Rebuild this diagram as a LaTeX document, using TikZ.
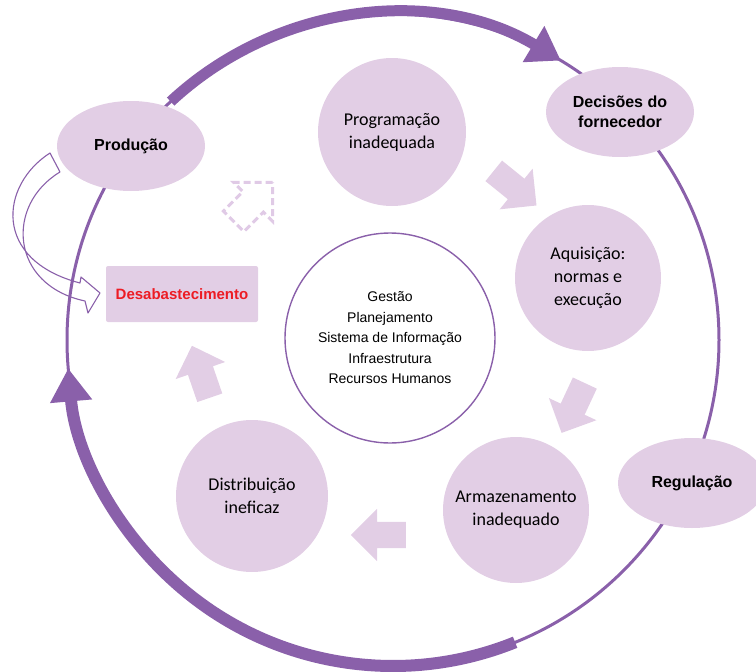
\documentclass[tikz,border=0pt]{standalone}
\usepackage{fontspec}
\setmainfont{Liberation Sans}
\newfontfamily\bubblefont{Carlito}
\usetikzlibrary{arrows.meta,shapes.arrows,shapes.geometric}

\definecolor{ringpurple}{RGB}{138,96,170}
\definecolor{lilac}{RGB}{226,206,229}
\definecolor{lilacdash}{RGB}{224,202,230}
\definecolor{alertred}{RGB}{237,28,36}

\tikzset{
    bubble/.style={circle, fill=lilac, minimum size=#1, inner sep=0pt, align=center,
        font=\bubblefont\fontsize{18}{23}\selectfont},
    oval/.style={ellipse, fill=lilac, minimum width=148pt, minimum height=90pt, inner sep=0pt,
        align=center, font=\bfseries\fontsize{16}{19.5}\selectfont},
    blockarrow/.style={single arrow, fill=lilac, minimum height=55pt, inner xsep=0pt,
        inner ysep=13pt, single arrow head extend=13pt},
}

\begin{document}
\begin{tikzpicture}[x=1pt,y=-1pt]

                \useasboundingbox (0,0) rectangle (756,672);

                \def \ringr {326}
                \coordinate (C) at (393,340);

                % the cycle: thin ring, two thick arcs with heads
                \draw[ringpurple, line width=3pt] (C) circle[radius=\ringr];
                \draw[ringpurple, line width=11pt, -{Triangle[length=32pt,width=40pt]}]
                    ([shift={(227:\ringr)}]C) arc[start angle=227, end angle=301, radius=\ringr];
                \draw[ringpurple, line width=12pt, -{Triangle[length=33pt,width=40pt]}]
                    ([shift={(68:\ringr)}]C) arc[start angle=68, end angle=175, radius=\ringr];

                % hollow curved arrow
                \draw[ringpurple, line width=1.1pt, line join=round]
                    (50,153) .. controls (0,185) and (-8,260) .. (80,283)
                    -- (81,277) -- (100,293) -- (88,313) -- (85,301)
                    .. controls (10,285) and (5,205) .. (60,172) -- cycle;

                \node[oval] (producao) at (131,146) {Produção};
                \node[oval] (decisoes) at (620,112) {Decisões do\\fornecedor};
                \node[oval] (regulacao) at (692,483) {Regulação};

                \node[bubble=148pt] (programacao) at (392,132) {Programação\\inadequada};
                \node[bubble=146pt] (aquisicao) at (588,278) {Aquisição:\\normas e\\execução};
                \node[bubble=146pt] (armazenamento) at (516,510) {Armazenamento\\inadequado};
                \node[bubble=152pt] (distribuicao) at (252,496) {Distribuição\\ineficaz};

                \node[circle, draw=ringpurple, line width=1.4pt, fill=white, minimum size=210pt,
                    align=center, font=\fontsize{14}{20.5}\selectfont] (eixos) at (390,338)
                    {Gestão\\Planejamento\\Sistema de Informação\\Infraestrutura\\Recursos Humanos};

                \node[fill=lilac, rounded corners=2pt, minimum width=152pt, minimum height=56pt,
                    text=alertred, font=\bfseries\fontsize{15}{18}\selectfont] (desab) at (182,294)
                    {Desabastecimento};

                % block arrows between the bubbles
                \foreach \x/\y/\a in {510/184/-39, 576/402/-115, 385/535/180, 203/378/109}
                {
                    \node[blockarrow, rotate=\a] (seta\a) at (\x,\y) {};
                }
                \node[blockarrow, fill=white, draw=lilacdash, line width=3pt,
                    dash pattern=on 7pt off 4pt, rotate=45] (setaTracejada) at (248,207) {};

            \end{tikzpicture}
\end{document}
